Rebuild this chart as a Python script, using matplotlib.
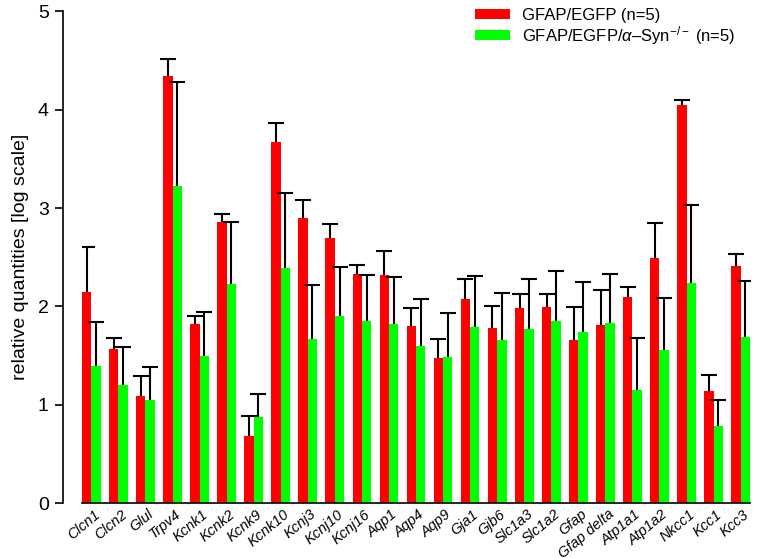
import matplotlib
matplotlib.use("Agg")
import matplotlib.pyplot as plt
import numpy as np
from matplotlib.patches import Patch

plt.rcParams['font.family'] = ['Liberation Sans', 'DejaVu Sans']
plt.rcParams['mathtext.fontset'] = 'custom'
plt.rcParams['mathtext.rm'] = 'Liberation Sans'
plt.rcParams['mathtext.it'] = 'Liberation Sans:italic'
plt.rcParams['mathtext.bf'] = 'Liberation Sans:bold'

genes = ["Clcn1", "Clcn2", "Glul", "Trpv4", "Kcnk1", "Kcnk2", "Kcnk9", "Kcnk10",
         "Kcnj3", "Kcnj10", "Kcnj16", "Aqp1", "Aqp4", "Aqp9", "Gja1", "Gjb6",
         "Slc1a3", "Slc1a2", "Gfap", "Gfap delta", "Atp1a1", "Atp1a2", "Nkcc1",
         "Kcc1", "Kcc3"]

wt_mean = [2.15, 1.57, 1.09, 4.34, 1.82, 2.86, 0.685, 3.67, 2.90, 2.70, 2.33, 2.32,
           1.80, 1.47, 2.07, 1.78, 1.98, 1.99, 1.66, 1.81, 2.10, 2.49, 4.05, 1.14, 2.41]
wt_err = [0.45, 0.11, 0.20, 0.18, 0.08, 0.08, 0.20, 0.20, 0.18, 0.14, 0.09, 0.24,
          0.18, 0.195, 0.21, 0.22, 0.15, 0.14, 0.33, 0.36, 0.10, 0.36, 0.05, 0.165, 0.12]

ko_mean = [1.39, 1.20, 1.05, 3.22, 1.50, 2.23, 0.87, 2.39, 1.665, 1.90, 1.85, 1.82,
           1.60, 1.48, 1.79, 1.66, 1.77, 1.855, 1.74, 1.83, 1.15, 1.56, 2.24, 0.78, 1.69]
ko_err = [0.45, 0.39, 0.33, 1.06, 0.44, 0.63, 0.24, 0.76, 0.555, 0.50, 0.47, 0.48,
          0.47, 0.45, 0.52, 0.48, 0.51, 0.505, 0.505, 0.50, 0.53, 0.525, 0.79, 0.265, 0.565]

labels = ["GFAP/EGFP (n=5)", "GFAP/EGFP/$\\alpha$\u2013Syn$^{-/-}$ (n=5)"]
colors = ["#ff0000", "#00ff00"]

W, H = 758, 558
fig = plt.figure(figsize=(W / 100, H / 100), dpi=100)
ax = fig.add_axes([82 / W, (H - 503) / H, 668 / W, 491.6 / H])

x = np.arange(len(genes))
bw = 0.345
ax.bar(x - bw / 2, wt_mean, width=bw, color=colors[0], zorder=2)
ax.bar(x + bw / 2, ko_mean, width=bw, color=colors[1], zorder=2)

for xs, m, e in [(x - bw / 2, wt_mean, wt_err), (x + bw / 2, ko_mean, ko_err)]:
    m = np.asarray(m)
    _, caps, _ = ax.errorbar(xs, m, yerr=[np.zeros(len(xs)), e], fmt='none',
                             ecolor='black', elinewidth=1.5, capsize=5.5,
                             capthick=1.5, zorder=3)
    for c in caps:
        if np.allclose(np.asarray(c.get_ydata(), dtype=float), m):
            c.set_visible(False)

ax.set_xlim(-bw, len(x) - 1 + bw)
ax.set_ylim(0, 5)
ax.set_yticks([0, 1, 2, 3, 4, 5])
ax.tick_params(axis='y', labelsize=14, length=6, width=1.2, pad=4)
ax.set_xticks(x + 0.08)
ax.set_xticklabels(genes, rotation=40, ha='right', va='top', rotation_mode='anchor',
                   fontsize=10.5, fontstyle='italic')
ax.tick_params(axis='x', length=0, pad=3)

ax.spines['top'].set_visible(False)
ax.spines['right'].set_visible(False)
ax.spines['left'].set_position(('outward', 14))
ax.spines['left'].set_linewidth(1.2)
ax.spines['bottom'].set_linewidth(1.2)

ax.set_ylabel("relative quantities [log scale]", fontsize=14, labelpad=6)

handles = [Patch(facecolor=c, edgecolor='none') for c in colors]
fig.legend(handles, labels, loc='upper left', bbox_to_anchor=(475 / W, (H - 8) / H),
           frameon=False, fontsize=12, handlelength=2.1, handleheight=0.56,
           handletextpad=0.7, borderpad=0, borderaxespad=0, labelspacing=0.05)

fig.savefig("out.png", dpi=100)
